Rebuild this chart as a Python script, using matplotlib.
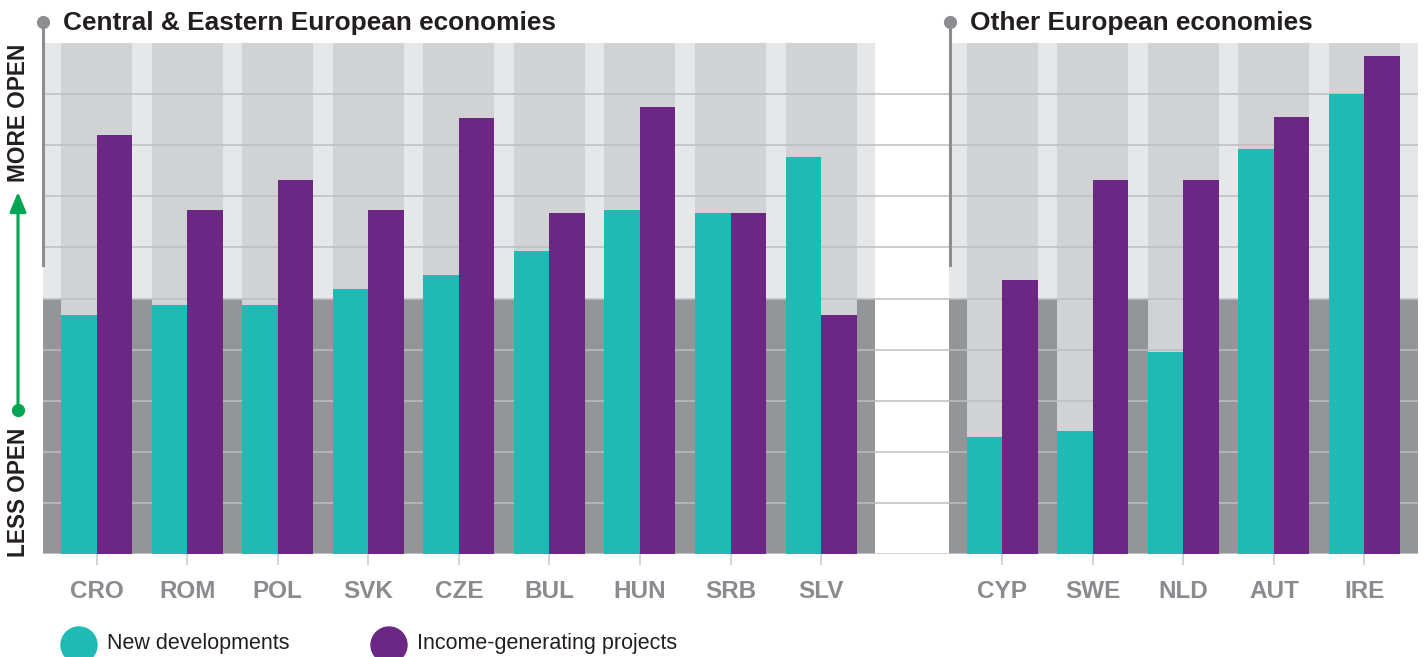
import matplotlib
matplotlib.use("Agg")
import matplotlib.pyplot as plt
import numpy as np
from matplotlib.lines import Line2D
from matplotlib.patches import Ellipse, FancyArrowPatch

W, H = 1426, 657

# data (0-10 openness score, 5 = midline)
CEE = ["CRO", "ROM", "POL", "SVK", "CZE", "BUL", "HUN", "SRB", "SLV"]
CEE_NEW = [4.68, 4.87, 4.87, 5.19, 5.46, 5.93, 6.73, 6.67, 7.77]
CEE_INC = [8.20, 6.73, 7.32, 6.73, 8.53, 6.67, 8.75, 6.67, 4.68]
OTH = ["CYP", "SWE", "NLD", "AUT", "IRE"]
OTH_NEW = [2.29, 2.41, 3.95, 7.93, 9.00]
OTH_INC = [5.36, 7.32, 7.32, 8.55, 9.75]
PANEL_TITLES = ["Central & Eastern European economies", "Other European economies"]
SERIES = ["New developments", "Income-generating projects"]

TEAL, PURPLE = "#1ebab3", "#6c2784"
COL_BG, STRIP_HI, STRIP_LO = "#d1d2d4", "#e6e7e8", "#939598"
GRID = "#bdbec0"
DARK = "#231f20"
LABEL = "#8a8b8e"

BW = 0.392      # bar width (group period = 1)
EDGE = 0.592    # panel edge distance from first/last group centre


def fx(px):
    return px / W


def fy(py):
    return 1 - py / H


fig = plt.figure(figsize=(W / 100, H / 100), dpi=100)
ax = fig.add_axes([fx(43), fy(554), fx(1418 - 43), (554 - 43) / H])

x_cee = np.arange(len(CEE), dtype=float)
x_oth = np.arange(len(OTH), dtype=float) + len(CEE) + 1
panels = [(x_cee, CEE_NEW, CEE_INC), (x_oth, OTH_NEW, OTH_INC)]

for xs, new, inc in panels:
    lo, hi = xs[0] - EDGE, xs[-1] + EDGE
    ax.bar(lo, 5, width=hi - lo, bottom=5, align="edge", color=STRIP_HI, zorder=0)
    ax.bar(lo, 5, width=hi - lo, bottom=0, align="edge", color=STRIP_LO, zorder=0)
    ax.bar(xs, 10, width=2 * BW, color=COL_BG, zorder=0.5)
    ax.bar(xs - BW / 2, new, width=BW, color=TEAL, zorder=3)
    ax.bar(xs + BW / 2, inc, width=BW, color=PURPLE, zorder=3)

for yv in range(0, 10):
    ax.axhline(yv, color=GRID if yv else "#c9cacc", lw=1.1, zorder=1)

ax.set_xlim(x_cee[0] - EDGE, x_oth[-1] + EDGE)
ax.set_ylim(0, 10)
ax.set_yticks([])
ax.set_xticks(np.concatenate([x_cee, x_oth]))
ax.set_xticklabels(CEE + OTH, fontsize=17.5, fontweight="bold", color=LABEL,
                   family="Liberation Sans")
ax.tick_params(axis="x", length=8, width=1.1, color="#c7c8ca", pad=11)
for s in ax.spines.values():
    s.set_visible(False)

# panel titles with grey marker lines
for px, title in zip([43, 950], PANEL_TITLES):
    fig.add_artist(Line2D([fx(px), fx(px)], [fy(22), fy(265)], color="#8c8d90", lw=2.2))
    fig.add_artist(Line2D([fx(px)], [fy(22)], marker="o", markersize=8.5,
                          color="#8c8d90", lw=0))
    fig.text(fx(px + 20), fy(23), title, fontsize=18.9, fontweight="bold", color=DARK,
             va="center", ha="left", family="Liberation Sans")

# green "more open" arrow
fig.add_artist(FancyArrowPatch((fx(18), fy(410)), (fx(18), fy(192)),
                               transform=fig.transFigure, color="#00a651", lw=2.2,
                               arrowstyle="-|>,head_length=0.6,head_width=0.25",
                               mutation_scale=20, shrinkA=0, shrinkB=0))
fig.add_artist(Line2D([fx(18)], [fy(410)], marker="o", markersize=8.5,
                      color="#00a651", lw=0))
fig.text(fx(19), fy(113), "MORE OPEN", rotation=90, fontsize=16.3, fontweight="bold",
         color=DARK, ha="center", va="center", family="Liberation Sans")
fig.text(fx(19), fy(492), "LESS OPEN", rotation=90, fontsize=16.3, fontweight="bold",
         color=DARK, ha="center", va="center", family="Liberation Sans")

# legend
for cx, tx, col, name in [(79, 107, TEAL, SERIES[0]), (389, 417, PURPLE, SERIES[1])]:
    fig.add_artist(Ellipse((fx(cx), fy(645)), 36 / W, 36 / H, color=col))
    fig.text(fx(tx), fy(644), name, fontsize=15.5, color=DARK, va="center", ha="left",
             family="Liberation Sans")

fig.savefig("out.png", dpi=100)
